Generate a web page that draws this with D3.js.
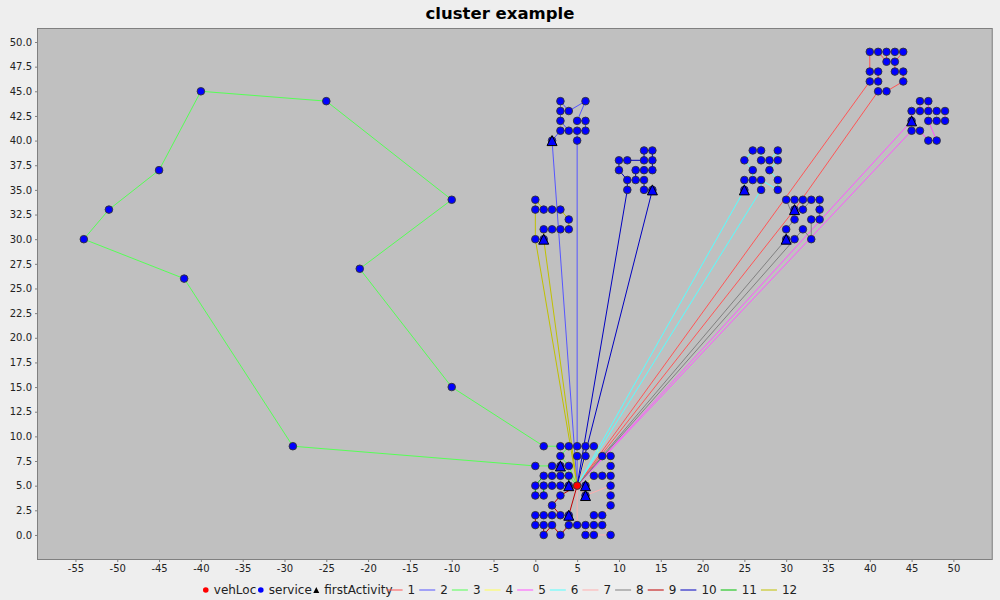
<!DOCTYPE html>
<html><head><meta charset="utf-8">
<script src="https://cdn.jsdelivr.net/npm/d3@7"></script>
<style>
body{margin:0;background:#eeeeee;}
svg{display:block;}
</style></head><body>
<svg id="chart" width="1000" height="600"></svg>
<script>
// ---------- data ----------
const chartTitle = "cluster example";
const xTickValues = d3.range(-55, 51, 5);
const yTickValues = d3.range(0, 50.01, 2.5);
const vehLoc = [[5,5]];
const routeNames = ["1","2","3","4","5","6","7","8","9","10","11","12"];
const routeColors = ["#ff5555","#5555ff","#55ff55","#ffff55","#ff55ff","#55ffff","#ffafaf","#808080","#c00000","#0000c0","#00c000","#c0c000"];
const route1 = [[31,33],[41,45],[42,45],[44,46],[44,47],[43,47],[43,48],[44,49],[43,49],[42,49],[42,48],[41,49],[40,49],[40,47],[41,47],[41,46],[40,46]];
const route2 = [[2,40],[3,41],[4,41],[3,42],[3,43],[3,44],[4,43],[6,44],[5,42],[6,42],[6,41],[5,41],[5,40]];
const route3 = [[3,7],[2,7],[0,7],[-29,9],[-42,26],[-54,30],[-51,33],[-45,37],[-40,45],[-25,44],[-10,34],[-21,27],[-10,15],[1,9],[3,9],[4,9],[3,8],[4,7]];
const route4 = [[6,5],[7,6],[8,6],[9,6],[9,7],[9,8],[8,8],[7,9],[6,9],[5,9],[5,8],[6,8]];
const route5 = [[45,42],[45,43],[46,43],[46,44],[47,44],[47,43],[48,43],[49,43],[49,42],[48,42],[47,42],[48,40],[47,40],[46,41],[45,41]];
const route6 = [[25,35],[25,36],[26,36],[26,37],[25,38],[26,39],[27,39],[27,38],[28,38],[29,39],[29,38],[28,37],[29,36],[29,35],[27,36],[27,35]];
const route7 = [[6,4],[9,5],[9,4],[9,3],[8,2],[7,2],[8,1],[9,0],[7,0],[7,1],[6,0],[6,1],[5,1]];
const route8 = [[30,30],[30,31],[31,32],[30,34],[31,34],[32,34],[32,33],[33,34],[34,34],[34,33],[34,32],[33,32],[33,30],[32,31],[31,30]];
const route9 = [[4,2],[4,1],[3,0],[2,1],[1,0],[1,1],[0,1],[0,2],[1,2],[2,2],[3,2],[2,3],[3,4]];
const route10 = [[14,35],[13,35],[13,36],[12,36],[12,37],[13,37],[14,37],[14,38],[14,39],[13,39],[13,38],[11,38],[10,38],[10,37],[11,36],[11,35]];
const route11 = [[4,5],[4,6],[3,6],[2,6],[1,6],[0,5],[0,4],[1,4],[1,5],[2,5],[3,5]];
const route12 = [[1,30],[1,31],[2,31],[3,31],[4,31],[4,32],[3,33],[2,33],[1,33],[0,34],[0,33],[0,30]];
const routes = [route1,route2,route3,route4,route5,route6,route7,route8,route9,route10,route11,route12];
const services = routes.flat();
const firstActivity = routes.map(r => r[0]);

// ---------- layout ----------
const FONT = "'DejaVu Sans', sans-serif";
const P = {l:37, t:28, r:992.7, b:560};
const svg = d3.select("#chart");
const x = d3.scaleLinear().domain([-59.6, 54.7]).range([P.l, P.r]);
const y = d3.scaleLinear().domain([-2.54, 51.42]).range([P.b, P.t]);

svg.append("text").text(chartTitle)
  .attr("x", 500).attr("y", 18.5).attr("text-anchor","middle")
  .attr("font-family", FONT).attr("font-weight","bold").attr("font-size", 16.5).attr("fill","#000");

svg.append("rect").attr("x", P.l).attr("y", P.t).attr("width", P.r-P.l).attr("height", P.b-P.t)
  .attr("fill","#c0c0c0");

const gx = svg.append("g").attr("transform", `translate(0,${P.b})`)
  .call(d3.axisBottom(x).tickValues(xTickValues).tickSize(2).tickPadding(3).tickFormat(d => String(d)));
const gy = svg.append("g").attr("transform", `translate(${P.l},0)`)
  .call(d3.axisLeft(y).tickValues(yTickValues).tickSize(2).tickPadding(3).tickFormat(d3.format(".1f")));
[gx, gy].forEach(g => {
  g.select(".domain").remove();
  g.selectAll(".tick line").attr("stroke","#808080");
  g.selectAll(".tick text").attr("font-family", FONT).attr("font-size", 10).attr("fill","#222");
});

svg.append("rect").attr("x", P.l+0.5).attr("y", P.t+0.5).attr("width", P.r-P.l-1).attr("height", P.b-P.t-1)
  .attr("fill","none").attr("stroke","#808080");

const line = d3.line().x(d => x(d[0])).y(d => y(d[1]));
const depot = vehLoc[0];
svg.append("g").selectAll("path").data(routes).join("path")
  .attr("d", r => line([depot, ...r, depot]))
  .attr("fill","none").attr("stroke",(r,i) => routeColors[i]).attr("stroke-width",1);

svg.append("g").selectAll("circle").data(services).join("circle")
  .attr("cx", d => x(d[0])).attr("cy", d => y(d[1])).attr("r", 3.8)
  .attr("fill","#0000ff").attr("stroke","#333").attr("stroke-width",0.9);

const tri = s => `M0,${-s}L${s},${s}L${-s},${s}Z`;
svg.append("g").selectAll("path").data(firstActivity).join("path")
  .attr("transform", d => `translate(${x(d[0])},${y(d[1])})`)
  .attr("d", tri(5)).attr("fill","#0000ff").attr("stroke","#000").attr("stroke-width",1);

svg.append("g").selectAll("circle").data(vehLoc).join("circle")
  .attr("cx", d => x(d[0])).attr("cy", d => y(d[1])).attr("r", 3.8)
  .attr("fill","#ff0000").attr("stroke","#333").attr("stroke-width",0.9);

// ---------- legend ----------
const legendItems = [
  {label:"vehLoc", type:"circle", color:"#ff0000"},
  {label:"service", type:"circle", color:"#0000ff"},
  {label:"firstActivity", type:"triangle", color:"#000"}
].concat(routeNames.map((n,i) => ({label:n, type:"line", color:routeColors[i]})));
const lg = svg.append("g");
const LY = 590;
let cursor = 0, prevType = null;
const placed = [];
legendItems.forEach((it, i) => {
  let center;
  if (i === 0) center = 3;
  else if (it.type === "line") center = cursor + (prevType === "line" ? 12 : 2);
  else center = cursor + 4.5;
  const tx = center + (it.type === "line" ? 13 : 8);
  const t = lg.append("text").text(it.label).attr("x", tx).attr("y", LY+4.3)
    .attr("font-family", FONT).attr("font-size", 12).attr("fill","#222");
  const w = t.node().getComputedTextLength();
  placed.push({it, center});
  cursor = tx + w; prevType = it.type;
});
placed.forEach(({it, center}) => {
  if (it.type === "circle") lg.append("circle").attr("cx", center).attr("cy", LY).attr("r", 2.8).attr("fill", it.color);
  else if (it.type === "triangle") lg.append("path").attr("transform",`translate(${center},${LY})`).attr("d", tri(3)).attr("fill", it.color);
  else lg.append("line").attr("x1", center-8).attr("x2", center+8).attr("y1", LY).attr("y2", LY).attr("stroke", it.color);
});
const total = cursor;
lg.attr("transform", `translate(${500 - total/2},0)`);
</script>
</body></html>
